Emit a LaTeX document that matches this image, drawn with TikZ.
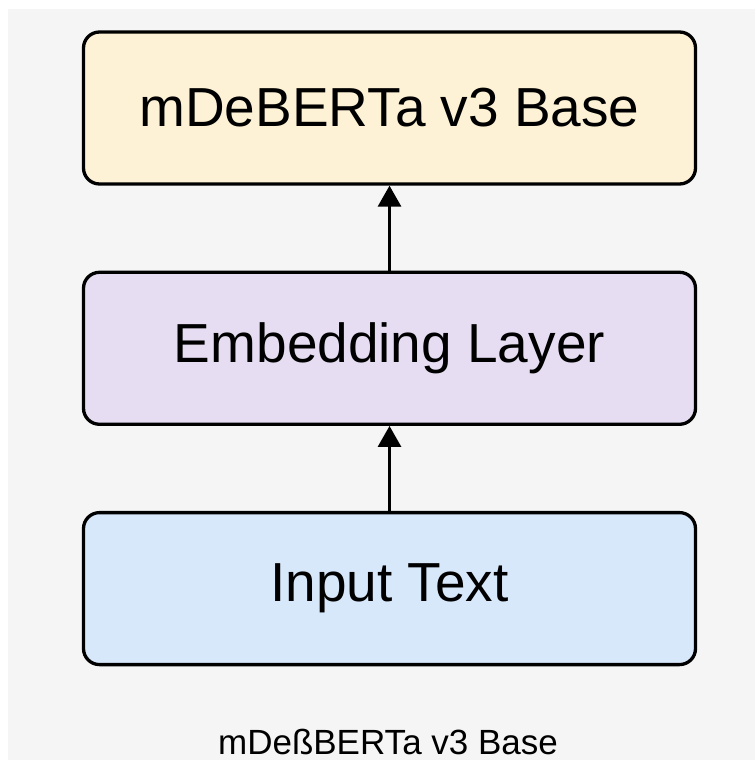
\documentclass[tikz,border=0pt]{standalone}
\usepackage{fontspec}
\setmainfont{Liberation Sans}
\usepackage{tikz}
\usetikzlibrary{positioning,arrows.meta}
\definecolor{bggray}{HTML}{F5F5F5}
\definecolor{modelfill}{HTML}{FDF2D5}
\definecolor{embedfill}{HTML}{E6DDF3}
\definecolor{inputfill}{HTML}{D8E8FB}

\begin{document}
\begin{tikzpicture}[
    x=1pt, y=-1pt,
    layer box/.style={draw=black, line width=3.3pt, rounded corners=16pt,
        minimum width=612pt, minimum height=152pt, inner sep=0pt,
        font=\fontsize{55}{60}\selectfont},
    flow arrow/.style={line width=3pt, -{Triangle[width=23pt,length=21pt]}},
    every node/.style={color=black}
    ]
    % Background
    \useasboundingbox (0,0) rectangle (755,760);
    \fill[white] (0,0) rectangle (755,760);
    \fill[bggray] (8,9) rectangle (755,760);
    % Boxes
    \node[layer box, fill=modelfill] (model) at (389.5,108) {mDeBERTa v3 Base};
    \node[layer box, fill=embedfill, below=85pt of model] (embed) {Embedding Layer};
    \node[layer box, fill=inputfill, below=85pt of embed] (input) {Input Text};
    % Arrows
    \draw[flow arrow] (input.north) -- (embed.south);
    \draw[flow arrow] (embed.north) -- (model.south);
    % Caption
    \node[anchor=base, inner sep=0pt, font=\fontsize{35}{40}\selectfont] (caption) at (388,754) {mDeßBERTa v3 Base};
\end{tikzpicture}
\end{document}
